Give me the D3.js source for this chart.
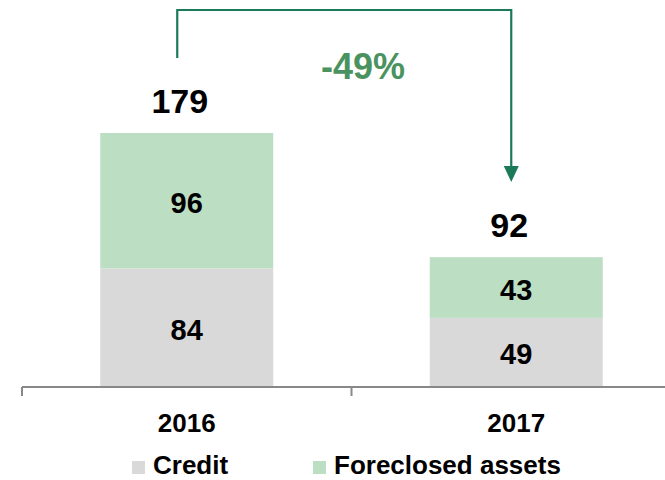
<!DOCTYPE html>
<html>
<head>
<meta charset="utf-8">
<script src="https://cdn.jsdelivr.net/npm/d3@7/dist/d3.min.js"></script>
<style>
  html, body { margin: 0; padding: 0; background: #fff; }
  svg { display: block; font-family: "Liberation Sans", Arial, sans-serif; }
</style>
</head>
<body>
<svg id="chart" width="665" height="480"></svg>
<script>
const categories = ["2016", "2017"];
const credit = [84, 49];
const foreclosed = [96, 43];
const totals = [179, 92];
const seriesNames = ["Credit", "Foreclosed assets"];
const changeLabel = "-49%";

const colors = { credit: "#d9d9d9", foreclosed: "#bcdfc4" };
const W = 665, H = 480;
const svg = d3.select("#chart");

const x = d3.scaleBand().domain(categories).range([22, 681]).paddingInner(0).paddingOuter(0);
const y = d3.scaleLinear().domain([0, 180]).range([387, 133]);
const barW = x.bandwidth() * 0.525;
const cx = c => x(c) + x.bandwidth() / 2;

const data = categories.map((c, i) => ({ cat: c, credit: credit[i], foreclosed: foreclosed[i], total: totals[i] }));
const stack = d3.stack().keys(["credit", "foreclosed"])(data);

// bars
stack.forEach(layer => {
  svg.append("g").selectAll("rect").data(layer).join("rect")
    .attr("x", d => cx(d.data.cat) - barW / 2)
    .attr("width", barW)
    .attr("y", d => y(d[1]))
    .attr("height", d => y(d[0]) - y(d[1]))
    .attr("fill", colors[layer.key]);
  svg.append("g").selectAll("text").data(layer).join("text")
    .attr("x", d => cx(d.data.cat))
    .attr("y", d => (y(d[0]) + y(d[1])) / 2 + 12)
    .attr("text-anchor", "middle")
    .attr("font-weight", "bold")
    .attr("font-size", 29)
    .attr("fill", "#000")
    .text(d => d.data[layer.key]);
});

// axis
const axisG = svg.append("g").attr("transform", `translate(0,${y(0)})`);
axisG.append("line").attr("x1", 22).attr("x2", W).attr("y1", 0).attr("y2", 0)
  .attr("stroke", "#888").attr("stroke-width", 2);
[x(categories[0]), x(categories[1])].forEach(t => {
  axisG.append("line").attr("x1", t).attr("x2", t).attr("y1", 0).attr("y2", 9)
    .attr("stroke", "#888").attr("stroke-width", 2);
});
axisG.selectAll("text.cat").data(categories).join("text")
  .attr("class", "cat")
  .attr("x", d => cx(d))
  .attr("y", 45)
  .attr("text-anchor", "middle")
  .attr("font-weight", "bold")
  .attr("font-size", 26)
  .text(d => d);

// totals
svg.append("g").selectAll("text").data(data).join("text")
  .attr("x", d => cx(d.cat) - 7)
  .attr("y", d => y(d.credit + d.foreclosed) - 20)
  .attr("text-anchor", "middle")
  .attr("font-weight", "bold")
  .attr("font-size", 34)
  .text(d => d.total);

// arrow
const arrowColor = "#1b7a57";
const ax1 = cx(categories[0]) - 9.5;
const ax2 = cx(categories[1]) - 5;
const topY = 10;
const startY = 58;
const tipY = 182;
svg.append("path")
  .attr("d", `M${ax1},${startY} V${topY} H${ax2} V${tipY - 14}`)
  .attr("fill", "none").attr("stroke", arrowColor).attr("stroke-width", 2.2);
svg.append("path")
  .attr("d", `M${ax2 - 7.5},${tipY - 16} L${ax2 + 7.5},${tipY - 16} L${ax2},${tipY} Z`)
  .attr("fill", arrowColor);
svg.append("text")
  .attr("x", 363).attr("y", 79)
  .attr("text-anchor", "middle")
  .attr("font-weight", "bold").attr("font-size", 36)
  .attr("fill", "#4a9360")
  .text(changeLabel);

// legend
const legend = [
  { name: seriesNames[0], color: colors.credit, x: 132 },
  { name: seriesNames[1], color: colors.foreclosed, x: 313 }
];
const lg = svg.append("g");
legend.forEach(l => {
  lg.append("rect").attr("x", l.x).attr("y", 461).attr("width", 13).attr("height", 13).attr("fill", l.color);
  lg.append("text").attr("x", l.x + 21).attr("y", 474)
    .attr("font-weight", "bold").attr("font-size", 26).text(l.name);
});
</script>
</body>
</html>
